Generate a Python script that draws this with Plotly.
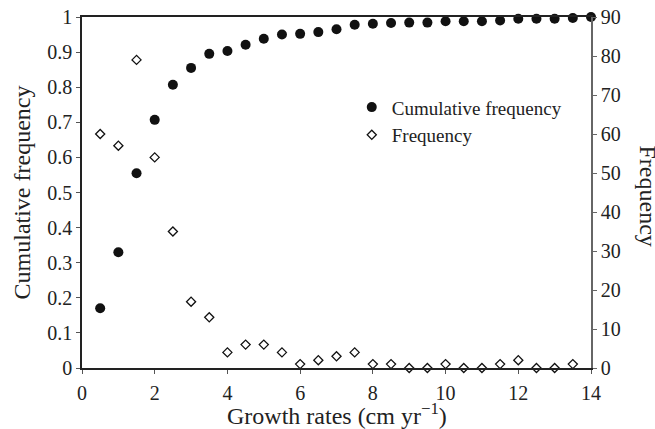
import plotly.graph_objects as go

growth = [0.5, 1, 1.5, 2, 2.5, 3, 3.5, 4, 4.5, 5, 5.5, 6, 6.5, 7, 7.5, 8, 8.5, 9, 9.5,
          10, 10.5, 11, 11.5, 12, 12.5, 13, 13.5, 14]
cumulative = [0.17, 0.33, 0.555, 0.707, 0.807, 0.855, 0.895, 0.903, 0.921, 0.938, 0.95,
              0.952, 0.957, 0.965, 0.978, 0.981, 0.983, 0.984, 0.984, 0.988, 0.988, 0.988,
              0.990, 0.995, 0.995, 0.995, 0.997, 1.0]
freq_x = [0.5, 1, 1.5, 2, 2.5, 3, 3.5, 4, 4.5, 5, 5.5, 6, 6.5, 7, 7.5, 8, 8.5, 9, 9.5,
          10, 10.5, 11, 11.5, 12, 12.5, 13, 13.5]
frequency = [60, 57, 79, 54, 35, 17, 13, 4, 6, 6, 4, 1, 2, 3, 4, 1, 1, 0, 0,
             1, 0, 0, 1, 2, 0, 0, 1]

FONT = "Liberation Serif"
fig = go.Figure()
fig.add_trace(go.Scatter(
    x=growth, y=cumulative, mode="markers", name="Cumulative frequency",
    marker=dict(symbol="circle", size=10, color="#111111"), cliponaxis=False))
fig.add_trace(go.Scatter(
    x=freq_x, y=frequency, mode="markers", name="Frequency", yaxis="y2",
    marker=dict(symbol="diamond-open", size=7, color="#111111", line=dict(width=1.3)),
    cliponaxis=False))

fig.update_layout(
    width=655, height=429,
    margin=dict(l=82, r=64, t=17, b=61, autoexpand=False),
    paper_bgcolor="white", plot_bgcolor="white",
    font=dict(family=FONT, size=20, color="#222222"),
    showlegend=True,
    legend=dict(x=0.53, y=0.797, xanchor="left", yanchor="top",
                bgcolor="rgba(0,0,0,0)", font=dict(size=19, family=FONT),
                itemwidth=30, tracegroupgap=0),
    xaxis=dict(range=[0, 14], dtick=2, showgrid=False, zeroline=False,
               showline=True, linecolor="#222222", linewidth=1.5, mirror=True,
               ticks="outside", ticklen=4, tickcolor="#555555",
               tickfont=dict(size=20), automargin=False, ticklabelstandoff=2),
    yaxis=dict(range=[0, 1], dtick=0.1, showgrid=False, zeroline=False,
               showline=True, linecolor="#222222", linewidth=1.5,
               ticks="outside", ticklen=4, tickcolor="#555555",
               tickfont=dict(size=20), automargin=False,
               title=dict(text="Cumulative frequency", font=dict(size=24), standoff=10)),
    yaxis2=dict(range=[0, 90], dtick=10, overlaying="y", side="right",
                showgrid=False, zeroline=False,
                showline=True, linecolor="#666666", linewidth=1.5,
                ticks="outside", ticklen=4, tickcolor="#666666",
                tickfont=dict(size=20), automargin=False),
    annotations=[
        dict(text="Frequency", textangle=90, xref="paper", yref="paper",
             x=1.0, xshift=57, y=0.5, yshift=-3, xanchor="center", yanchor="middle",
             showarrow=False, font=dict(size=24, family=FONT, color="#222222")),
        dict(text="Growth rates (cm yr<sup>−1</sup>)", xref="paper", yref="paper",
             x=0.5, y=0, yshift=-46, xanchor="center", yanchor="middle",
             showarrow=False, font=dict(size=24, family=FONT, color="#222222")),
    ],
)

fig.write_html("out.html")
